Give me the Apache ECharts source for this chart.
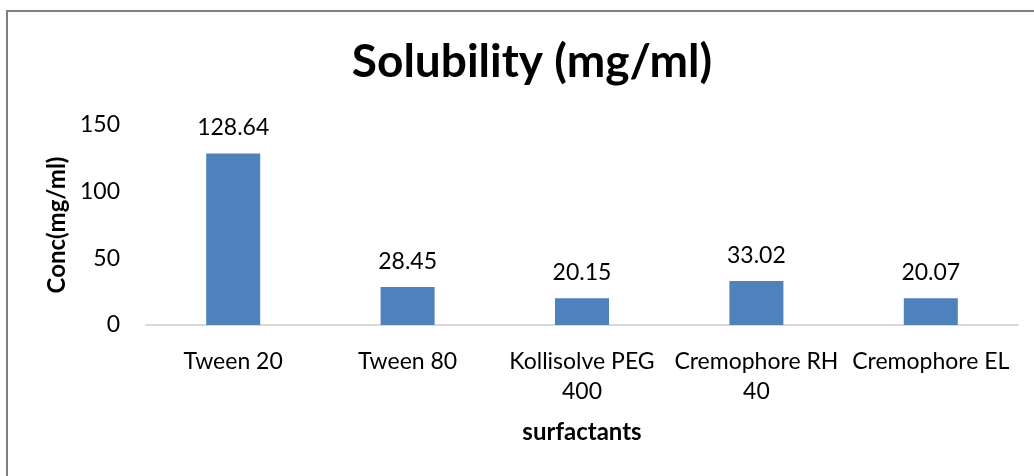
<!DOCTYPE html>
<html><head><meta charset="utf-8">
<script src="https://cdn.jsdelivr.net/npm/echarts@6/dist/echarts.min.js"></script>
<style>html,body{margin:0;padding:0;background:#fff}#c{width:1034px;height:476px}</style>
</head><body><div id="c"></div>
<script>
const categories = ["Tween 20", "Tween 80", "Kollisolve PEG\n400", "Cremophore RH\n40", "Cremophore EL"];
const values = [128.64, 28.45, 20.15, 33.02, 20.07];
const yTicks = [0, 50, 100, 150];
const FONT = "Lato";
const chart = echarts.init(document.getElementById('c'), null, {renderer: 'canvas'});
chart.setOption({
  animation: false,
  backgroundColor: '#fff',
  textStyle: {fontFamily: FONT},
  title: {
    text: 'Solubility (mg/ml)', left: 527, textAlign: 'center', top: 34,
    textStyle: {fontFamily: FONT, fontWeight: 'bold', fontSize: 46, color: '#000'}
  },
  graphic: [{
    type: 'rect', shape: {x: 7, y: 11, width: 1040, height: 480},
    style: {fill: 'none', stroke: '#7f7f7f', lineWidth: 2}, silent: true, z: -1
  }],
  grid: {left: 146, right: 16, top: 125, bottom: 151},
  xAxis: {
    type: 'category', data: categories,
    name: 'surfactants', nameLocation: 'middle', nameGap: 95,
    nameTextStyle: {fontFamily: FONT, fontWeight: 'bold', fontSize: 24, color: '#000'},
    axisLine: {lineStyle: {color: '#d9d9d9', width: 2}},
    axisTick: {show: false},
    axisLabel: {fontFamily: FONT, fontSize: 23, color: '#000', margin: 22, lineHeight: 30, interval: 0}
  },
  yAxis: {
    type: 'value', min: 0, max: 150, interval: 50,
    name: 'Conc(mg/ml)', nameLocation: 'middle', nameGap: 76, nameRotate: 90,
    nameTextStyle: {fontFamily: FONT, fontWeight: 'bold', fontSize: 24, color: '#000'},
    axisLine: {show: false}, axisTick: {show: false},
    splitLine: {show: false},
    axisLabel: {fontFamily: FONT, fontSize: 23, color: '#000', margin: 26,
      formatter: v => yTicks.includes(v) ? String(v) : ''}
  },
  series: [{
    type: 'bar', data: values, barWidth: 54,
    itemStyle: {color: '#4f81bd'},
    label: {show: true, position: 'top', distance: 14, fontFamily: FONT, fontSize: 23, color: '#000',
      formatter: p => p.value.toFixed(2)}
  }]
});
</script></body></html>
